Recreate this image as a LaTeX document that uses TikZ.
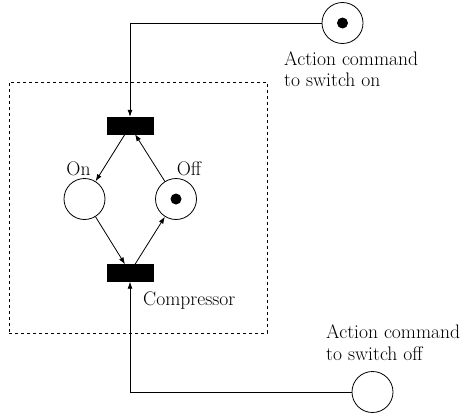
\documentclass[tikz,border=0pt]{standalone}
\usetikzlibrary{positioning, arrows.meta, calc}

\begin{document}
\begin{tikzpicture}[
    x=1pt, y=-1pt,
    place/.style={circle, draw, line width=0.8pt, minimum size=41pt, inner sep=0pt},
    trans/.style={rectangle, draw, fill=black, minimum width=46pt, minimum height=17pt, inner sep=0pt},
    token/.style={circle, fill=black, minimum size=11pt, inner sep=0pt},
    lbl/.style={inner sep=0pt, align=left, font=\fontsize{19.6}{21.5}\selectfont},
    arc/.style={-{Latex[length=7pt, width=5pt]}, line width=0.8pt},
]
\useasboundingbox (0,0) rectangle (463,415);

% compressor net
\node [draw, dashed, line width=0.8pt, minimum width=258pt, minimum height=251pt, inner sep=0pt] (box) at (138,207.5) {};
\node [trans] (ton) at (130,125.5) {};
\node [trans] (toff) at (130,273) {};
\node [place] (on) at (84.5,199) {};
\node [place] (off) at (176,199) {};
\node [token] (offtok) at (off) {};

\node [lbl, anchor=base] (onlbl) at (78.5,175) {On};
\node [lbl, anchor=base] (offlbl) at (189,175) {Off};
\node [lbl, anchor=base west] (comp) at (143,305) {Compressor};

% action commands
\node [place] (cmdon) at (342.5,23) {};
\node [token] (cmdtok) at (cmdon) {};
\node [place] (cmdoff) at (372.5,392) {};
\node [lbl, anchor=base west] (onlbl1) at (284,65) {Action command};
\node [lbl, anchor=base west] (onlbl2) at (284,86) {to switch on};
\node [lbl, anchor=base west] (offlbl1) at (326,338) {Action command};
\node [lbl, anchor=base west] (offlbl2) at (326,360) {to switch off};

\draw [arc] (cmdon.west) -| (ton.north);
\draw [arc] (cmdoff.west) -| (toff.south);
\draw [arc] ([xshift=-5pt]ton.south) -- (on);
\draw [arc] (off) -- ([xshift=5pt]ton.south);
\draw [arc] (on) -- ([xshift=-5pt]toff.north);
\draw [arc] ([xshift=5pt]toff.north) -- (off);
\end{tikzpicture}
\end{document}
